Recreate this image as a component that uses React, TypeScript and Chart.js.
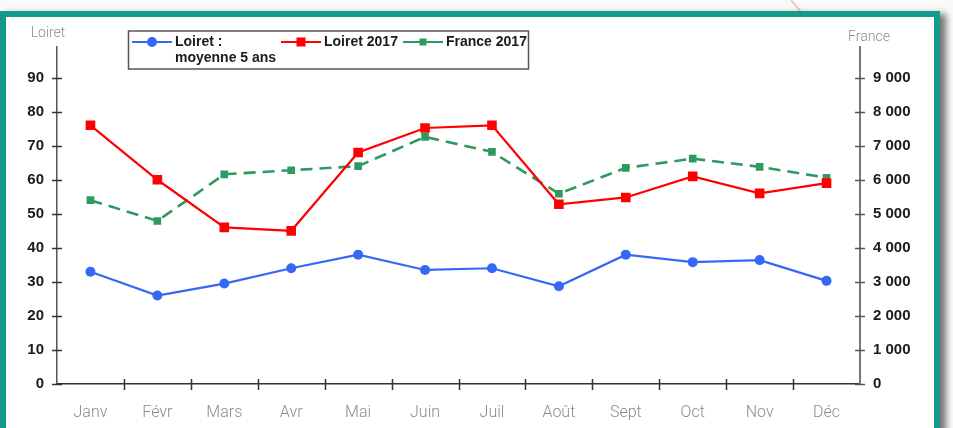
import React, { useEffect, useRef } from "react";
import { Chart, registerables } from "chart.js";

Chart.register(...registerables);

const months = ["Janv", "Févr", "Mars", "Avr", "Mai", "Juin", "Juil", "Août", "Sept", "Oct", "Nov", "Déc"];
const loiretMoy5 = [33, 26, 29.5, 34, 38, 33.5, 34, 28.7, 38, 35.8, 36.4, 30.3];
const loiret2017 = [76, 60, 46, 45, 68, 75.2, 76, 52.8, 54.8, 61, 56, 59];
const france2017 = [5400, 4790, 6160, 6280, 6400, 7260, 6820, 5590, 6350, 6620, 6380, 6060];
const leftTicks = [0, 10, 20, 30, 40, 50, 60, 70, 80, 90];
const rightTicks = [0, 1000, 2000, 3000, 4000, 5000, 6000, 7000, 8000, 9000];

const BLUE = "#3568f5";
const RED = "#ff0000";
const GREEN = "#2f9a60";

const fmt = (v: number) => String(v).replace(/\B(?=(\d{3})+(?!\d))/g, " ");

const crossTicks = {
  id: "crossTicks",
  afterDraw(chart: any) {
    const ctx = chart.ctx;
    const { x, y, y2 } = chart.scales;
    ctx.save();
    ctx.lineWidth = 1.5;
    ctx.strokeStyle = "#333";
    const seg = (a: number, b: number, c: number, d: number) => {
      ctx.beginPath();
      ctx.moveTo(a, b);
      ctx.lineTo(c, d);
      ctx.stroke();
    };
    y.ticks.forEach((t: any) => {
      const py = Math.round(y.getPixelForValue(t.value)) + 0.5;
      seg(x.left - 5, py, x.left + 5, py);
    });
    ctx.strokeStyle = "#555";
    y2.ticks.forEach((t: any) => {
      const py = Math.round(y2.getPixelForValue(t.value)) + 0.5;
      seg(x.right - 5, py, x.right + 5, py);
    });
    ctx.strokeStyle = "#333";
    for (let i = 1; i < months.length; i++) {
      const px = Math.round((x.getPixelForValue(i - 1) + x.getPixelForValue(i)) / 2) + 0.5;
      seg(px, y.bottom - 5, px, y.bottom + 6);
    }
    // axis titles
    ctx.fillStyle = "#8f8f8f";
    ctx.font = "300 14px Roboto";
    ctx.textAlign = "center";
    ctx.textBaseline = "middle";
    ctx.fillText("Loiret", 48, 33);
    ctx.fillText("France", 869, 37);
    // legend
    ctx.strokeStyle = "#555";
    ctx.lineWidth = 1.5;
    ctx.strokeRect(128.5, 31, 400, 38);
    const items = [
      { color: BLUE, style: "circle", x0: 132, lines: ["Loiret :", "moyenne 5 ans"] },
      { color: RED, style: "rect", x0: 281, lines: ["Loiret 2017"] },
      { color: GREEN, style: "rect2", x0: 403, lines: ["France 2017"] },
    ];
    ctx.font = "bold 14px 'Liberation Sans', Arial, sans-serif";
    ctx.textAlign = "left";
    items.forEach((it) => {
      const ly = 42;
      ctx.strokeStyle = it.color;
      ctx.fillStyle = it.color;
      ctx.lineWidth = 2;
      seg(it.x0, ly, it.x0 + 40, ly);
      const cx = it.x0 + 20;
      if (it.style === "circle") {
        ctx.beginPath();
        ctx.arc(cx, ly, 5, 0, Math.PI * 2);
        ctx.fill();
      } else if (it.style === "rect") {
        ctx.fillRect(cx - 4.5, ly - 4.5, 9, 9);
      } else {
        ctx.fillRect(cx - 3.5, ly - 3.5, 7, 7);
      }
      ctx.fillStyle = "#1a1a1a";
      it.lines.forEach((t, i) => ctx.fillText(t, it.x0 + 43, ly + i * 16.5));
    });
    ctx.restore();
  },
};

export default function App() {
  const ref = useRef<HTMLCanvasElement | null>(null);
  useEffect(() => {
    if (!ref.current) return;
    const chart = new Chart(ref.current, {
      type: "line",
      data: {
        labels: months,
        datasets: [
          {
            label: "Loiret : moyenne 5 ans",
            data: loiretMoy5,
            borderColor: BLUE,
            backgroundColor: BLUE,
            borderWidth: 2.2,
            pointStyle: "circle",
            pointRadius: 5,
            pointBorderWidth: 0,
            yAxisID: "y",
            tension: 0,
          },
          {
            label: "Loiret 2017",
            data: loiret2017,
            borderColor: RED,
            backgroundColor: RED,
            borderWidth: 2.2,
            pointStyle: "rect",
            pointRadius: 6.8,
            pointBorderWidth: 0,
            yAxisID: "y",
            tension: 0,
          },
          {
            label: "France 2017",
            data: france2017,
            borderColor: GREEN,
            backgroundColor: GREEN,
            borderWidth: 2.6,
            borderDash: [12, 7],
            pointStyle: "rect",
            pointRadius: 5.4,
            pointBorderWidth: 0,
            yAxisID: "y2",
            tension: 0,
          },
        ],
      },
      options: {
        animation: false,
        responsive: false,
        devicePixelRatio: 1,
        layout: { padding: { top: 47, left: 0, right: 0, bottom: 0 } },
        plugins: { legend: { display: false }, tooltip: { enabled: false } },
        scales: {
          x: {
            type: "category",
            offset: true,
            grid: { display: false, drawTicks: false, offset: true },
            border: { display: true, color: "#333", width: 1.5 },
            ticks: {
              color: "#8c8c8c",
              font: { family: "Roboto", size: 16, weight: "300" as any },
              padding: 19,
              maxRotation: 0,
              autoSkip: false,
            },
            afterFit: (s: any) => {
              s.height = 44;
            },
          },
          y: {
            type: "linear",
            position: "left",
            min: 0,
            max: 99,
            grid: { display: false, drawTicks: false },
            border: { display: true, color: "#555", width: 1.5 },
            ticks: {
              stepSize: 10,
              color: "#1a1a1a",
              font: { family: "'Liberation Sans', Arial, sans-serif", size: 15, weight: "bold" },
              padding: 13,
            },
            afterBuildTicks: (s: any) => {
              s.ticks = leftTicks.map((v) => ({ value: v }));
            },
            afterFit: (s: any) => {
              s.width = 57;
            },
          },
          y2: {
            type: "linear",
            position: "right",
            min: 0,
            max: 9900,
            grid: { display: false, drawTicks: false },
            border: { display: true, color: "#777", width: 2 },
            ticks: {
              stepSize: 1000,
              color: "#1a1a1a",
              font: { family: "'Liberation Sans', Arial, sans-serif", size: 15, weight: "bold" },
              padding: 13,
              callback: (v: any) => fmt(Number(v)),
            },
            afterBuildTicks: (s: any) => {
              s.ticks = rightTicks.map((v) => ({ value: v }));
            },
            afterFit: (s: any) => {
              s.width = 93;
            },
          },
        },
      },
      plugins: [crossTicks],
    });
    return () => chart.destroy();
  }, []);

  return (
    <div
      style={{
        position: "fixed",
        left: 0,
        top: 0,
        width: 953,
        height: 428,
        background: "#fafafa",
        overflow: "hidden",
      }}
    >
      <svg width={953} height={20} style={{ position: "absolute", left: 0, top: 0 }}>
        <line x1={791} y1={0} x2={802} y2={13} stroke="#f1b9b9" strokeWidth={1.5} />
      </svg>
      <div
        style={{
          position: "absolute",
          left: 0,
          top: 11,
          width: 940,
          height: 440,
          border: "6px solid #14998b",
          boxSizing: "border-box",
          background: "#ffffff",
          boxShadow: "6px 3px 7px rgba(0,0,0,0.55)",
        }}
      />
      <canvas ref={ref} width={953} height={428} style={{ position: "absolute", left: 0, top: 0 }} />
    </div>
  );
}
